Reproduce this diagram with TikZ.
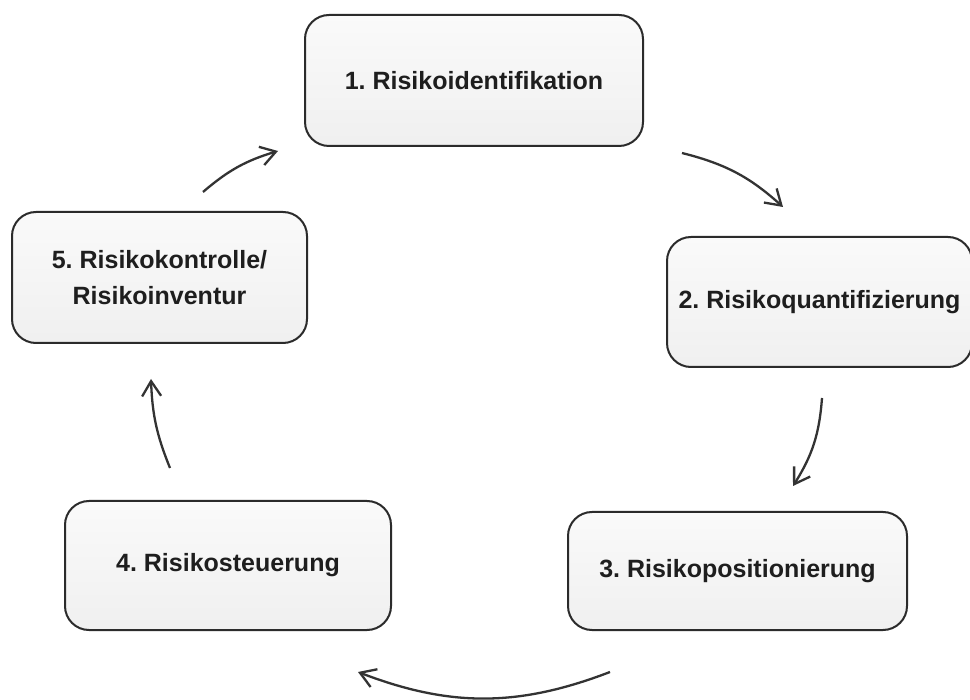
\documentclass[tikz,border=0pt]{standalone}
\usepackage{fontspec}
\setmainfont{Liberation Sans}
\usetikzlibrary{arrows.meta}
\definecolor{edgecol}{HTML}{2B2B2B}
\definecolor{txtcol}{HTML}{1E1E1E}
\definecolor{arrcol}{HTML}{333333}
\tikzset{
  stagebox/.style={draw=edgecol, line width=2pt, rounded corners=24pt,
    top color=gray!4, bottom color=gray!12,
    font=\fontsize{25}{36}\selectfont\bfseries\frenchspacing, text=txtcol,
    align=center, inner sep=0pt},
  flow/.style={draw=arrcol, line width=2.3pt,
    -{Straight Barb[length=15pt,width=19pt,line width=2.3pt]}}
}
\begin{document}
\begin{tikzpicture}[x=1pt,y=-1pt]
\useasboundingbox (0,0) rectangle (970,700);
\clip (0,0) rectangle (970,700);
\fill[white] (0,0) rectangle (970,700);

\node[stagebox, minimum width=338pt, minimum height=131pt] (s1) at (474,80.5) {1. Risikoidentifikation};
\node[stagebox, minimum width=305pt, minimum height=130pt] (s2) at (819.5,302) {2. Risikoquantifizierung};
\node[stagebox, minimum width=339pt, minimum height=118pt] (s3) at (737.5,571) {3. Risikopositionierung};
\node[stagebox, minimum width=326pt, minimum height=129pt] (s4) at (228,565.5) {4. Risikosteuerung};
\node[stagebox, minimum width=295pt, minimum height=131pt] (s5) at (159.5,277.5) {5. Risikokontrolle/\\Risikoinventur};

\coordinate (a51s) at (203,192);
\coordinate (a51e) at (278,151);
\coordinate (a12s) at (682,153);
\coordinate (a12e) at (783,207);
\coordinate (a23s) at (822,398);
\coordinate (a23e) at (793,486);
\coordinate (a34s) at (610,672);
\coordinate (a34e) at (358,672);
\coordinate (a45s) at (170,468);
\coordinate (a45e) at (151,379);

\draw[flow] (a51s) to[bend left=12] (a51e);
\draw[flow] (a12s) to[bend left=14] (a12e);
\draw[flow] (a23s) to[bend left=14] (a23e);
\draw[flow] (a34s) to[bend left=21] (a34e);
\draw[flow] (a45s) to[bend left=10] (a45e);
\end{tikzpicture}
\end{document}
